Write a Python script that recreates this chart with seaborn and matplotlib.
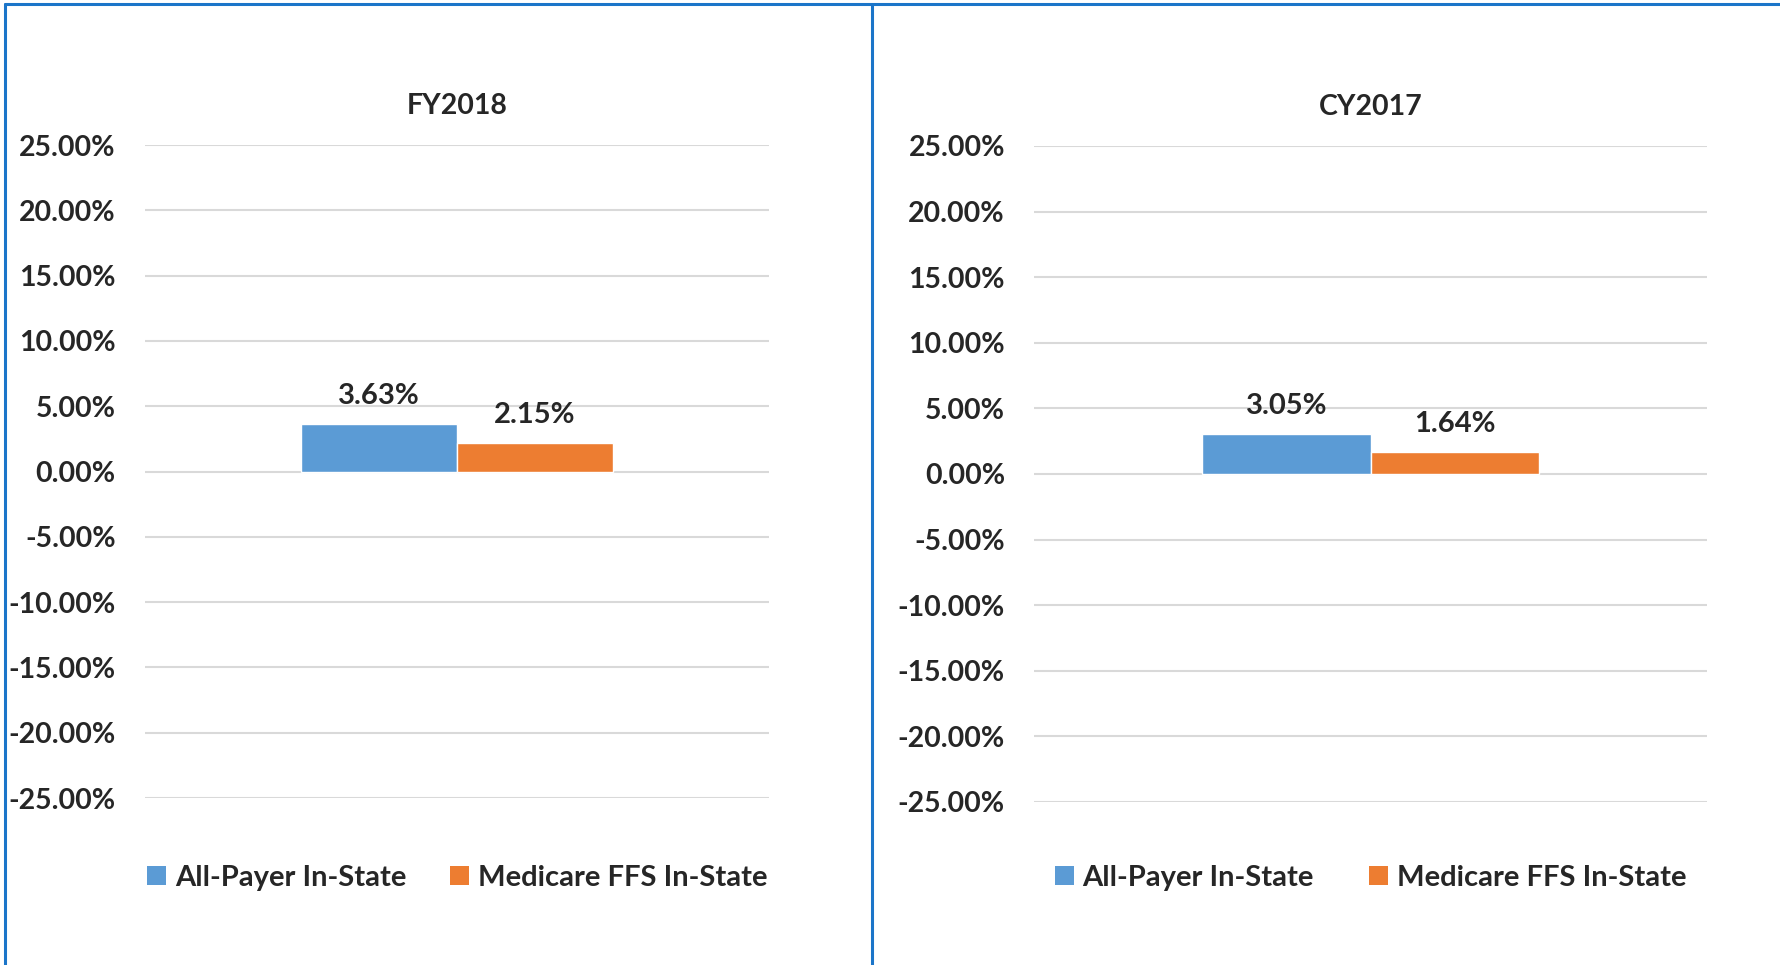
import matplotlib
matplotlib.use("Agg")
import matplotlib.pyplot as plt
import matplotlib.transforms as mtransforms
import pandas as pd
import seaborn as sns
from matplotlib.lines import Line2D
from matplotlib.patches import Patch

# Chart values (percent change)
panels = ["FY2018", "CY2017"]
series = ["All-Payer In-State", "Medicare FFS In-State"]
all_payer = [3.63, 3.05]
medicare_ffs = [2.15, 1.64]
yticks = [-25, -20, -15, -10, -5, 0, 5, 10, 15, 20, 25]

colors = {"All-Payer In-State": "#5B9BD5", "Medicare FFS In-State": "#ED7D31"}

sns.set_theme(style="white")
plt.rcParams["font.family"] = ["Lato", "DejaVu Sans"]
W = "bold"

fig = plt.figure(figsize=(17.81, 9.65), dpi=100)

# axes positions in figure fraction
positions = [
    [0.0814, 0.173, 0.3504, 0.6767],
    [0.5806, 0.169, 0.3779, 0.6798],
]
col_spacing = [1.5, 1.9]

for i, panel in enumerate(panels):
    ax = fig.add_axes(positions[i])
    df = pd.DataFrame({
        "panel": [panel, panel],
        "series": series,
        "value": [all_payer[i], medicare_ffs[i]],
    })
    sns.barplot(
        data=df, x="panel", y="value", hue="series", hue_order=series,
        palette=colors, width=0.5, saturation=1, ax=ax, legend=False,
    )
    ax.set_ylim(-25, 25)
    ax.set_xlim(-0.5, 0.5)
    ax.set_yticks(yticks)
    ax.set_yticklabels([f"{v:.2f}%" for v in yticks], fontsize=20.5, fontweight=W)
    ax.set_xticks([])
    ax.set_xlabel("")
    ax.set_ylabel("")
    ax.tick_params(axis="y", length=0, pad=21)
    ax.grid(axis="y", color="#D9D9D9", linewidth=1.5)
    ax.set_axisbelow(True)
    for s in ax.spines.values():
        s.set_visible(False)
    ax.set_title(panel, fontsize=20.5, fontweight=W, pad=22)

    for cont in ax.containers:
        ax.bar_label(cont, fmt="%.2f%%", padding=11, fontsize=21, fontweight=W)

    # legend: centred on the axes, same figure height in both panels
    trans = mtransforms.blended_transform_factory(ax.transAxes, fig.transFigure)
    handles = [Patch(facecolor=colors[s], edgecolor="none") for s in series]
    ax.legend(
        handles, series, loc="center", bbox_to_anchor=(0.5, 1 - 878 / 965),
        bbox_transform=trans, ncol=2,
        frameon=False, handlelength=0.65, handleheight=0.65,
        handletextpad=0.3, columnspacing=col_spacing[i],
        prop={"weight": W, "size": 21},
    )

# outer frame lines (top, left, divider)
border = "#1B75C9"
fig.add_artist(Line2D([5 / 1781, 1], [1 - 4 / 965, 1 - 4 / 965], color=border, lw=2.2,
                      transform=fig.transFigure))
fig.add_artist(Line2D([5 / 1781, 5 / 1781], [0, 1 - 4 / 965], color=border, lw=2.2,
                      transform=fig.transFigure))
fig.add_artist(Line2D([872 / 1781, 872 / 1781], [0, 1 - 4 / 965], color=border, lw=2.2,
                      transform=fig.transFigure))

fig.savefig("out.png", dpi=100)
